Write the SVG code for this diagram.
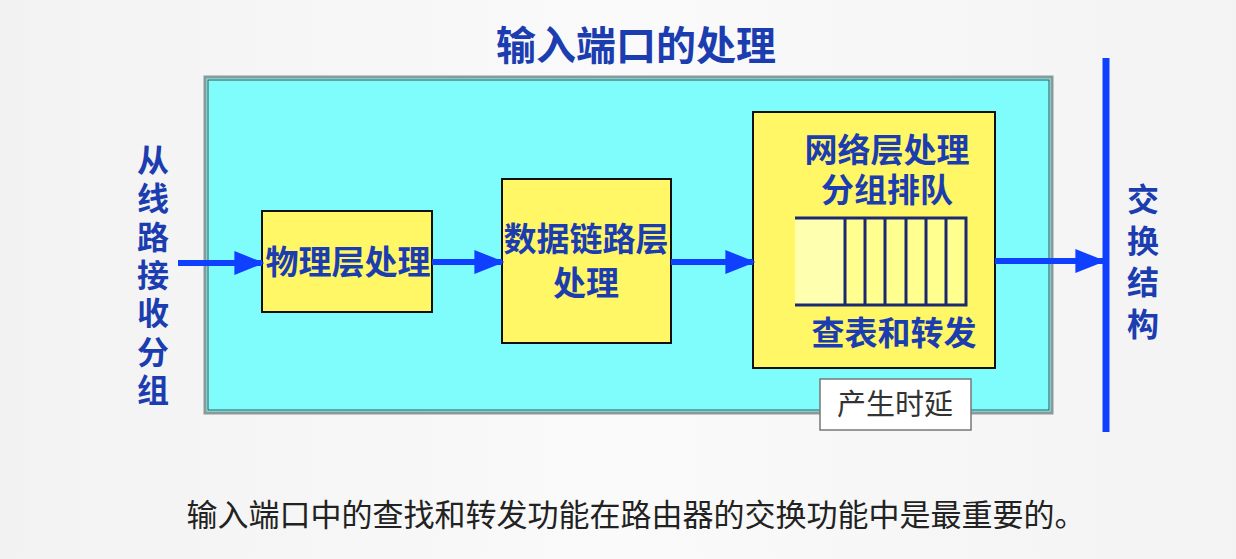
<svg xmlns="http://www.w3.org/2000/svg" width="1236" height="559" viewBox="0 0 1236 559">
<defs>
<linearGradient id="bg" x1="0" y1="0" x2="1" y2="0">
<stop offset="0" stop-color="#f2f2f2"/><stop offset="0.5" stop-color="#fafafa"/><stop offset="1" stop-color="#f3f3f3"/>
</linearGradient>
<marker id="ah" markerWidth="5" markerHeight="4" refX="4.6" refY="2" orient="auto" markerUnits="strokeWidth">
<path d="M0,0 L5,2 L0,4 Z" fill="#1040ff"/>
</marker>
</defs>
<style>
.lbl{font-family:"Noto Sans CJK SC","Noto Sans",sans-serif;font-weight:bold;fill:#1b3db0;text-anchor:middle}
.vt{font-family:"Noto Sans CJK SC","Noto Sans",sans-serif;font-weight:bold;fill:#1b3db0;writing-mode:vertical-rl;font-size:32px}
.box{fill:#fff766;stroke:#111;stroke-width:2}
.conn{stroke:#1040ff;stroke-width:6;fill:none;marker-end:url(#ah)}
</style>
<rect width="1236" height="559" fill="url(#bg)"/>
<text class="lbl" x="636" y="60" font-size="40">输入端口的处理</text>
<g id="port">
<rect x="205" y="77" width="847" height="336" fill="#7ffcfc" stroke="#8a9a9a" stroke-width="3"/>
<rect x="208" y="80" width="841" height="330" fill="none" stroke="#3c5050" stroke-width="1"/>
</g>
<g id="recv">
<text class="vt" x="153" y="144" letter-spacing="6.3">从线路接收分组</text>
</g>
<g id="phy">
<rect class="box" x="262" y="211" width="170" height="101"/>
<text class="lbl" font-size="33" x="348" y="274">物理层处理</text>
</g>
<g id="link">
<rect class="box" x="502" y="179" width="169" height="164"/>
<text class="lbl" font-size="33"><tspan x="586" y="251">数据链路层</tspan><tspan x="586" y="295">处理</tspan></text>
</g>
<g id="net">
<rect class="box" x="753" y="112" width="242" height="256"/>
<text class="lbl" font-size="33"><tspan x="887" y="162">网络层处理</tspan><tspan x="887" y="202">分组排队</tspan></text>
<rect x="795" y="218" width="171" height="87" fill="#ffff90"/>
<rect x="795" y="218" width="50" height="87" fill="#ffffb0"/>
<g stroke="#1b2a70" stroke-width="3" fill="none">
<path d="M795,218 H966 V305 H795"/>
<path d="M845,218V305M865,218V305M885,218V305M906,218V305M926,218V305M946,218V305"/>
</g>
<text class="lbl" font-size="33" x="894" y="345">查表和转发</text>
</g>
<g id="delay">
<rect x="820" y="379" width="151" height="51" fill="#ffffff" stroke="#777" stroke-width="1.5"/>
<text x="895" y="415" font-size="29" font-family="Noto Sans CJK SC,sans-serif" fill="#333" text-anchor="middle">产生时延</text>
</g>
<g id="fabric">
<line x1="1106" y1="58" x2="1106" y2="432" stroke="#1040ff" stroke-width="7"/>
<text class="vt" x="1143" y="183" letter-spacing="9.5">交换结构</text>
</g>
<g id="connectors">
<line class="conn" x1="178" y1="263" x2="262" y2="263"/>
<line class="conn" x1="432" y1="262" x2="502" y2="262"/>
<line class="conn" x1="671" y1="262" x2="753" y2="262"/>
<line class="conn" x1="995" y1="261" x2="1103" y2="261"/>
</g>
<text x="636" y="526" font-size="31" font-family="Noto Sans CJK SC,sans-serif" fill="#222" text-anchor="middle">输入端口中的查找和转发功能在路由器的交换功能中是最重要的。</text>
</svg>
